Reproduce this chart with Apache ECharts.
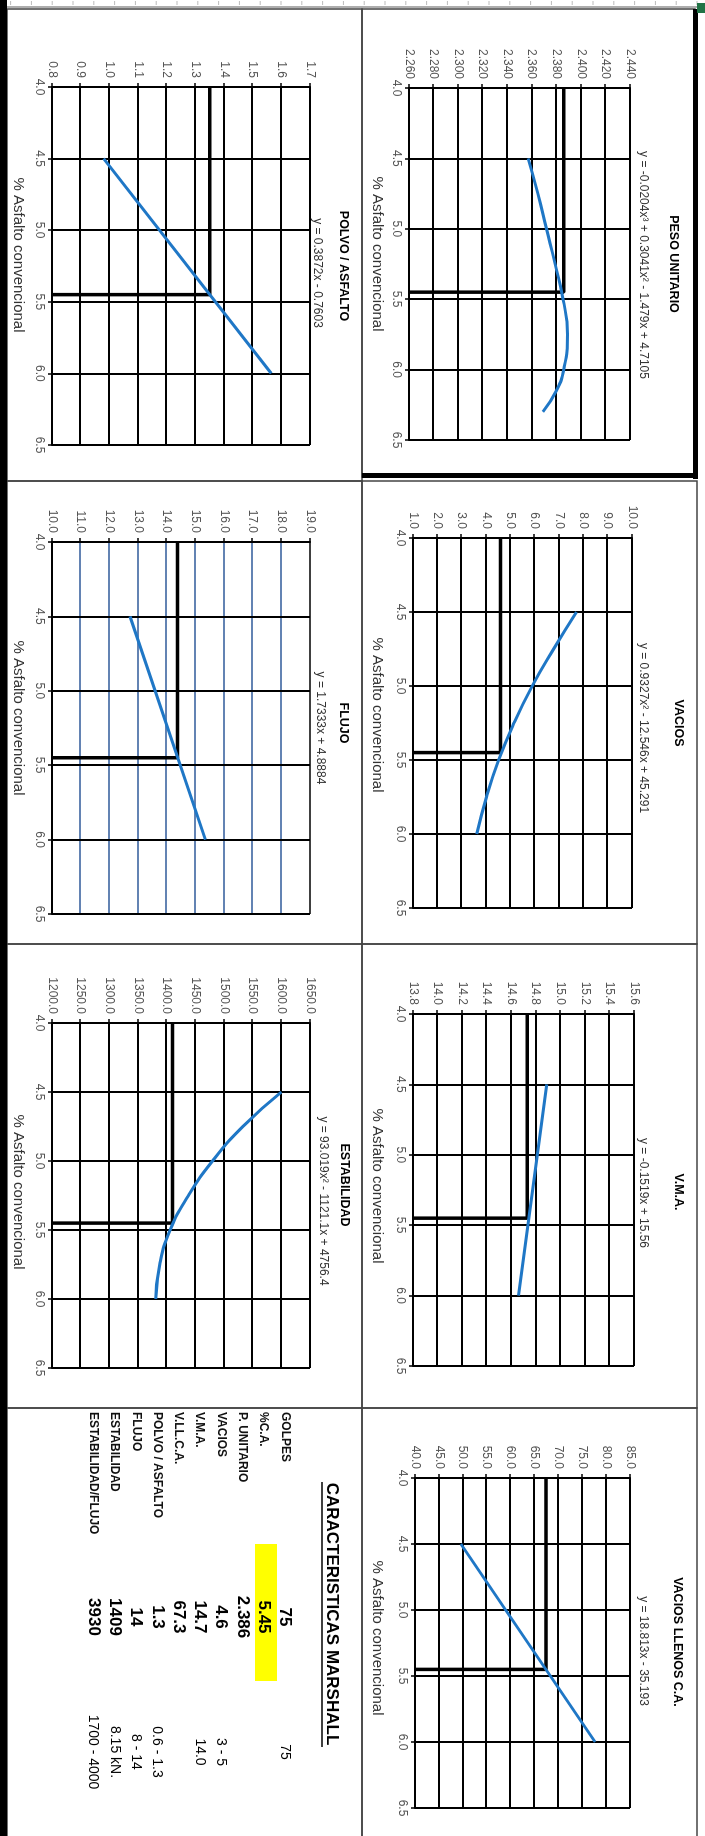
<!DOCTYPE html>
<html><head><meta charset="utf-8">
<script src="https://cdn.jsdelivr.net/npm/echarts@6/dist/echarts.min.js"></script>
<style>
html,body{margin:0;padding:0;background:#fff;overflow:hidden;width:705px;height:1836px;}
#wrap{position:absolute;left:0;top:0;width:1836px;height:705px;transform-origin:0 0;transform:translateX(705px) rotate(90deg);}
#chart{width:1836px;height:705px;}
</style></head><body>
<div id="wrap"><div id="chart"></div></div>
<script>
// ---------------- DATA ----------------
const xLabelsAsfalto = ['4.0','4.5','5.0','5.5','6.0','6.5'];
const asfaltoOptimo = 5.45;
const xAxisName = '% Asfalto convencional';

const pesoTicks = ['2.260','2.280','2.300','2.320','2.340','2.360','2.380','2.400','2.420','2.440'];
const pesoX = [4.5, 4.75, 5.0, 5.25, 5.5, 5.75, 6.0, 6.15, 6.3];
const pesoY = [2.357, 2.365, 2.372, 2.379, 2.3855, 2.389, 2.386, 2.380, 2.369];
const pesoOpt = 2.386;

const vaciosTicks = ['1.0','2.0','3.0','4.0','5.0','6.0','7.0','8.0','9.0','10.0'];
const vaciosX = [4.5, 4.75, 5.0, 5.25, 5.5, 5.75, 6.0];
const vaciosY = [7.72, 6.78, 5.9, 5.15, 4.52, 4.02, 3.62];
const vaciosOpt = 4.6;

const vmaTicks = ['13.8','14.0','14.2','14.4','14.6','14.8','15.0','15.2','15.4','15.6'];
const vmaX = [4.5, 6.0];
const vmaY = [14.89, 14.66];
const vmaOpt = 14.73;

const vllTicks = ['40.0','45.0','50.0','55.0','60.0','65.0','70.0','75.0','80.0','85.0'];
const vllX = [4.5, 6.0];
const vllY = [49.6, 77.7];
const vllOpt = 67.4;

const polvoTicks = ['0.8','0.9','1.0','1.1','1.2','1.3','1.4','1.5','1.6','1.7'];
const polvoX = [4.5, 6.0];
const polvoY = [0.98, 1.565];
const polvoOpt = 1.35;

const flujoTicks = ['10.0','11.0','12.0','13.0','14.0','15.0','16.0','17.0','18.0','19.0'];
const flujoX = [4.5, 6.0];
const flujoY = [12.72, 15.35];
const flujoOpt = 14.38;

const estabTicks = ['1200.0','1250.0','1300.0','1350.0','1400.0','1450.0','1500.0','1550.0','1600.0','1650.0'];
const estabX = [4.5, 4.75, 5.0, 5.25, 5.5, 5.75, 6.0];
const estabY = [1600, 1533, 1480, 1438, 1406, 1388, 1381];
const estabOpt = 1410;

const tablaTitulo = 'CARACTERISTICAS MARSHALL';
const tablaEtiquetas = ['GOLPES','%C.A.','P. UNITARIO','VACIOS','V.M.A.','V.LL.C.A.','POLVO / ASFALTO','FLUJO','ESTABILIDAD','ESTABILIDAD/FLUJO'];
const tablaValores = ['75','5.45','2.386','4.6','14.7','67.3','1.3','14','1409','3930'];
const tablaNormas = ['75','','','3 - 5','14.0','','0.6 - 1.3','8 - 14','8.15 kN.','1700 - 4000'];

const charts = [
  {key:'peso',  title:'PESO UNITARIO',       eq:'y = -0.0204x³ + 0.3041x² - 1.479x + 4.7105', x:pesoX,  y:pesoY,  opt:pesoOpt,  ticks:pesoTicks,  smooth:true},
  {key:'vacios',title:'VACIOS',              eq:'y = 0.9327x² - 12.546x + 45.291',            x:vaciosX,y:vaciosY,opt:vaciosOpt,ticks:vaciosTicks,smooth:true},
  {key:'vma',   title:'V.M.A.',              eq:'y = -0.1519x + 15.56',                        x:vmaX,   y:vmaY,   opt:vmaOpt,   ticks:vmaTicks,   smooth:false},
  {key:'vll',   title:'VACIOS LLENOS C.A.',  eq:'y = 18.813x - 35.193',                        x:vllX,   y:vllY,   opt:vllOpt,   ticks:vllTicks,   smooth:false},
  {key:'polvo', title:'POLVO / ASFALTO',     eq:'y = 0.3872x - 0.7603',                        x:polvoX, y:polvoY, opt:polvoOpt, ticks:polvoTicks, smooth:false},
  {key:'flujo', title:'FLUJO',               eq:'y = 1.7333x + 4.8884',                        x:flujoX, y:flujoY, opt:flujoOpt, ticks:flujoTicks, smooth:false, blueGrid:true},
  {key:'estab', title:'ESTABILIDAD',         eq:'y = 93.019x² - 1121.1x + 4756.4',             x:estabX, y:estabY, opt:estabOpt, ticks:estabTicks, smooth:true}
];

// ---------------- LAYOUT (unrotated page coords 1836 x 705) ----------------
const layout = {
  peso:  {grid:[88,75,352,221],   title:[264,32],  eq:[265,62],  name:[254,328]},
  vacios:{grid:[538,73,370,219],  title:[723,27],  eq:[728,62],  name:[715,328]},
  vma:   {grid:[1014,71,352,221], title:[1192,27], eq:[1193,62], name:[1186,328]},
  vll:   {grid:[1478,75,330,215], title:[1642,28], eq:[1651,62], name:[1638,328]},
  polvo: {grid:[87,395,358,258],  title:[266,362], eq:[273,388], name:[255,687]},
  flujo: {grid:[542,395,372,258], title:[723,362], eq:[728,385], name:[718,687]},
  estab: {grid:[1023,395,345,258],title:[1185,361],eq:[1201,382],name:[1192,687]}
};
const FONT = "'Liberation Sans', Arial, sans-serif";
const BLUE = '#1f77c6';
const GRIDBLUE = '#2f5a9a';

function txt(text, x, y, font, fill, align) {
  return {type:'text', x:x, y:y, z:20, silent:true,
    style:{text:text, font:font, fill:fill||'#000', align:align||'center', verticalAlign:'middle',
           textAlign:align||'center', textVerticalAlign:'middle'}};
}

const grids=[], xAxes=[], yAxes=[], series=[], graphics=[];
charts.forEach((c,i)=>{
  const L = layout[c.key];
  const ymin = parseFloat(c.ticks[0]);
  const ymax = parseFloat(c.ticks[c.ticks.length-1]);
  const yint = (ymax-ymin)/(c.ticks.length-1);
  grids.push({left:L.grid[0], top:L.grid[1], width:L.grid[2], height:L.grid[3]});
  xAxes.push({type:'value', gridIndex:i, min:4.0, max:6.5, interval:0.5,
    axisLine:{show:true, onZero:false, lineStyle:{color:'#000', width:2}},
    axisTick:{show:true, length:4, lineStyle:{color:'#000', width:1.5}},
    axisLabel:{fontSize:12, color:'#555', fontFamily:FONT, margin:7,
      formatter:v=>xLabelsAsfalto[Math.round((v-4.0)/0.5)]},
    splitLine:{show:true, lineStyle:{color:'#000', width:2}}});
  let splitColor = '#000';
  if (c.blueGrid) {
    splitColor = c.ticks.map((t,k)=> (k===0||k===c.ticks.length-1) ? '#000' : GRIDBLUE);
  }
  yAxes.push({type:'value', gridIndex:i, min:ymin, max:ymax, interval:yint,
    axisLine:{show:true, onZero:false, lineStyle:{color:'#000', width:2}},
    axisTick:{show:true, length:4, lineStyle:{color:'#000', width:1.5}},
    axisLabel:{fontSize:12, color:'#555', fontFamily:FONT, margin:9,
      formatter:v=>c.ticks[Math.round((v-ymin)/yint)]},
    splitLine:{show:true, lineStyle:{color:splitColor, width:c.blueGrid?1.5:2}}});
  series.push({type:'line', xAxisIndex:i, yAxisIndex:i, silent:true,
    data:[[4.0,c.opt],[asfaltoOptimo,c.opt],[asfaltoOptimo,ymin]],
    showSymbol:false, lineStyle:{color:'#000', width:3.5}, z:3});
  series.push({type:'line', xAxisIndex:i, yAxisIndex:i, silent:true,
    data:c.x.map((x,k)=>[x,c.y[k]]), smooth:c.smooth?true:false,
    showSymbol:false, lineStyle:{color:BLUE, width:3}, z:4});
  graphics.push(txt(c.title, L.title[0], L.title[1], 'bold 12.5px '+FONT, '#000'));
  graphics.push(txt(c.eq, L.eq[0], L.eq[1], '12px '+FONT, '#333'));
  graphics.push(txt(xAxisName, L.name[0], L.name[1], '15px '+FONT, '#333'));
});

// panel borders
const panels = [
  [9,10,468,333],[481,8,463,335],[944,8,464,335],[1408,8,430,335],
  [9,343,472,355],[481,343,463,355],[944,343,464,355],[1408,343,430,355]
];
panels.forEach(p=>graphics.push({type:'rect', z:1, silent:true,
  shape:{x:p[0],y:p[1],width:p[2],height:p[3]}, style:{fill:null, stroke:'#444', lineWidth:1.5}}));
// thick borders
graphics.push({type:'rect', z:2, silent:true, shape:{x:9,y:7,width:470,height:5}, style:{fill:'#000'}});
graphics.push({type:'rect', z:2, silent:true, shape:{x:473,y:7,width:5,height:336}, style:{fill:'#000'}});
graphics.push({type:'rect', z:2, silent:true, shape:{x:0,y:698,width:1836,height:7}, style:{fill:'#000'}});
// sheet ruler
graphics.push({type:'line', z:1, silent:true, shape:{x1:7,y1:8,x2:7,y2:705}, style:{stroke:'#777', lineWidth:1.2}});
for (let v=8; v<705; v+=20.8) {
  graphics.push({type:'line', z:1, silent:true, shape:{x1:1,y1:v,x2:5,y2:v}, style:{stroke:'#bbb', lineWidth:1}});
}
graphics.push({type:'rect', z:3, silent:true, shape:{x:3,y:0,width:10,height:8}, style:{fill:'#217346'}});

// table
graphics.push({type:'rect', z:5, silent:true, shape:{x:1544,y:428,width:137,height:22}, style:{fill:'#ffff00'}});
graphics.push(txt(tablaTitulo, 1614, 373, 'bold 17px '+FONT, '#000'));
graphics.push({type:'line', z:20, silent:true, shape:{x1:1482,y1:383,x2:1747,y2:383}, style:{stroke:'#000', lineWidth:1.5}});
tablaEtiquetas.forEach((t,k)=>{
  const y = 420 + k*21.3;
  graphics.push(txt(t, 1412, y, 'bold 12px '+FONT, '#111', 'left'));
  graphics.push(txt(tablaValores[k], 1617, y, 'bold 17px '+FONT, '#000'));
  if (tablaNormas[k]) graphics.push(txt(tablaNormas[k], 1752, y, '14px '+FONT, '#000'));
});

const chart = echarts.init(document.getElementById('chart'), null, {renderer:'canvas'});
chart.setOption({
  animation:false,
  backgroundColor:'#fff',
  grid:grids, xAxis:xAxes, yAxis:yAxes, series:series,
  graphic:{elements:graphics}
});
</script>
</body></html>
